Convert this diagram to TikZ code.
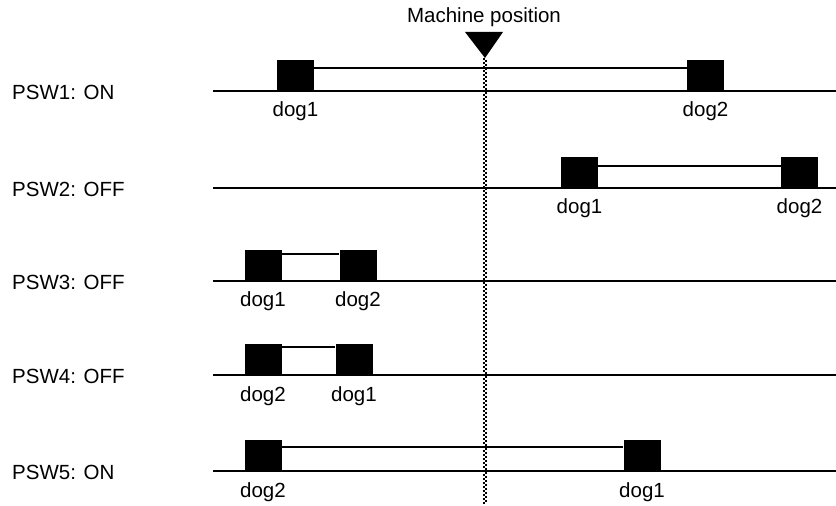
\documentclass[tikz,border=0pt]{standalone}
\usepackage{fontspec}
\setmainfont{Liberation Sans}
\usetikzlibrary{calc}
\begin{document}
\begin{tikzpicture}[x=1bp,y=-1bp,
  dogbox/.style={fill=black,draw=none,minimum width=37bp,minimum height=32bp,inner sep=0pt,anchor=south},
  rail/.style={line width=2bp},
  lbl/.style={font=\fontsize{20.5bp}{24bp}\selectfont,inner sep=0pt},
  doglbl/.style={lbl,anchor=base}]
\useasboundingbox (0,0) rectangle (836,506);
% rows: baseline, box centers
\foreach \r/\y/\xa/\xb/\off/\la/\lb/\txt in {
  1/91/295.5/705.5/8/dog1/dog2/{PSW1: ON},
  2/188/579.5/799.5/9/dog1/dog2/{PSW2: OFF},
  3/281/263/358/4/dog1/dog2/{PSW3: OFF},
  4/375/263/354/3/dog2/dog1/{PSW4: OFF},
  5/471/263/642/7/dog2/dog1/{PSW5: ON}}{
  \node[lbl,anchor=west] (p\r) at (12,\y+1) {\txt};
  \coordinate (L\r) at (213,\y);
  \coordinate (R\r) at (836,\y);
  \draw[rail] (L\r) -- (R\r);
  \node[dogbox] (a\r) at (\xa,\y+1) {};
  \node[dogbox] (b\r) at (\xb,\y+1) {};
  \draw[rail] ($(a\r.north east)+(0,\off)$) -- ($(b\r.north west)+(0,\off)$);
  \node[doglbl] (ta\r) at (\xa,\y+26) {\la};
  \node[doglbl] (tb\r) at (\xb,\y+26) {\lb};
}
% machine position
\node[lbl] (mp) at (484,17) {Machine position};
\coordinate (apex) at (485,58);
\fill (465,32) -- (503,32) -- (apex) -- cycle;
\coordinate (bot) at (485,504);
\draw[line width=2.2bp,dash pattern=on 2bp off 2bp] ($(apex)+(-1.2,0)$) -- ($(bot)+(-1.2,0)$);
\draw[line width=2.2bp,dash pattern=on 2bp off 2bp,dash phase=2bp] ($(apex)+(1.2,0)$) -- ($(bot)+(1.2,0)$);
\end{tikzpicture}
\end{document}
